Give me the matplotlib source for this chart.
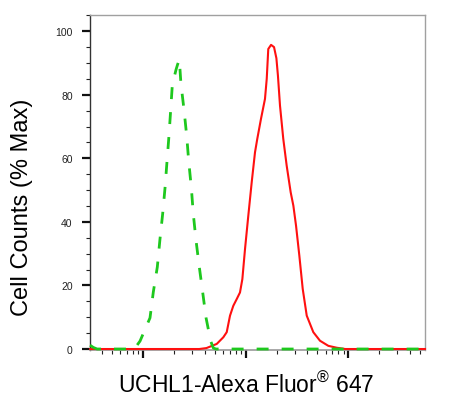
import numpy as np
import matplotlib
matplotlib.use('Agg')
import matplotlib.pyplot as plt
from matplotlib.ticker import LogLocator, MultipleLocator, NullFormatter

plt.rcParams['font.family'] = ['Liberation Sans', 'DejaVu Sans']
plt.rcParams['mathtext.fontset'] = 'custom'
plt.rcParams['mathtext.rm'] = 'Liberation Sans'

# log10 fluorescence intensity and % max for each histogram
red_log = [1.49, 2.55, 2.62, 2.72, 2.784, 2.817, 2.849, 2.881, 2.914, 2.946,
           2.969, 2.995, 3.027, 3.060, 3.092, 3.114, 3.150, 3.189, 3.206, 3.221,
           3.248, 3.277, 3.300, 3.315, 3.335, 3.367, 3.400, 3.439, 3.465, 3.491,
           3.523, 3.556, 3.595, 3.659, 3.724, 3.805, 3.887, 3.97, 4.745]
red_pct = [0, 0, 0.3, 1.6, 3.7, 5.3, 10.5, 13.6, 15.7, 17.8,
           22.0, 31.5, 42.0, 52.5, 61.9, 66.1, 72.4, 78.7, 85.0, 94.4,
           95.7, 95.0, 91.5, 86.0, 76.6, 66.1, 57.7, 49.3, 45.1, 38.8,
           29.4, 18.9, 10.5, 5.3, 2.6, 1.0, 0.4, 0, 0]

green_log = [1.4875, 1.52, 1.556, 1.906, 1.925, 1.974, 2.071, 2.103, 2.142, 2.168,
             2.194, 2.217, 2.236, 2.256, 2.272, 2.288, 2.324, 2.338, 2.356, 2.372,
             2.402, 2.428, 2.447, 2.473, 2.492, 2.518, 2.548, 2.583, 2.616, 2.661,
             2.687, 2.713, 4.745]
green_pct = [1.2, 0.5, 0, 0, 0.3, 2.5, 9.8, 17.9, 25.8, 34.6,
             42.5, 50.7, 58.9, 67.4, 75.2, 83.1, 87.9, 89.4, 91.1, 83.4,
             75.2, 67.0, 59.2, 50.7, 42.5, 34.3, 26.4, 17.9, 9.8, 2.5,
             0.3, 0, 0]

y_ticks = [0, 20, 40, 60, 80, 100]

red_x = 10 ** np.array(red_log)
green_x = 10 ** np.array(green_log)

fig = plt.figure(figsize=(4.67, 4.06), dpi=100)
ax = fig.add_axes([90 / 467, 1 - 351 / 406, 335 / 467, 335 / 406])

ax.plot(red_x, red_pct, color='#ff1010', lw=1.5, clip_on=False, zorder=3)
ax.plot(green_x, green_pct, color='#1ec81e', lw=2.0, dashes=(4.3, 4.7),
        clip_on=False, zorder=4)

ax.set_xscale('log')
ax.set_xlim(10 ** 1.4875, 10 ** 4.745)
ax.set_ylim(-0.31, 105.1)

ax.xaxis.set_major_locator(LogLocator(base=10))
ax.xaxis.set_minor_locator(LogLocator(base=10, subs=np.arange(2, 10)))
ax.xaxis.set_major_formatter(NullFormatter())
ax.xaxis.set_minor_formatter(NullFormatter())
ax.set_yticks(y_ticks)
ax.yaxis.set_minor_locator(MultipleLocator(5))

ax.tick_params(axis='both', which='major', direction='out', length=6,
               width=1.6, color='#111111')
ax.tick_params(axis='both', which='minor', direction='out', length=3.2,
               width=0.8, color='#222222')
ax.tick_params(axis='y', which='major', labelsize=7.5, pad=6.5,
               labelcolor='#222222')

for side in ['top', 'right']:
    ax.spines[side].set_color('#a0a0a0')
    ax.spines[side].set_linewidth(1.0)
ax.spines['left'].set_color('#333333')
ax.spines['left'].set_linewidth(1.0)
ax.spines['bottom'].set_color('#999999')
ax.spines['bottom'].set_linewidth(1.2)

fig.text(22 / 467, 1 - 207 / 406, 'Cell Counts (% Max)', rotation=90,
         ha='center', va='center', fontsize=17)
fig.text(246 / 467, 1 - 393 / 406, 'UCHL1-Alexa Fluor$^{\\mathrm{®}}$ 647',
         ha='center', va='baseline', fontsize=16.5)

fig.savefig('out.png', dpi=100)
